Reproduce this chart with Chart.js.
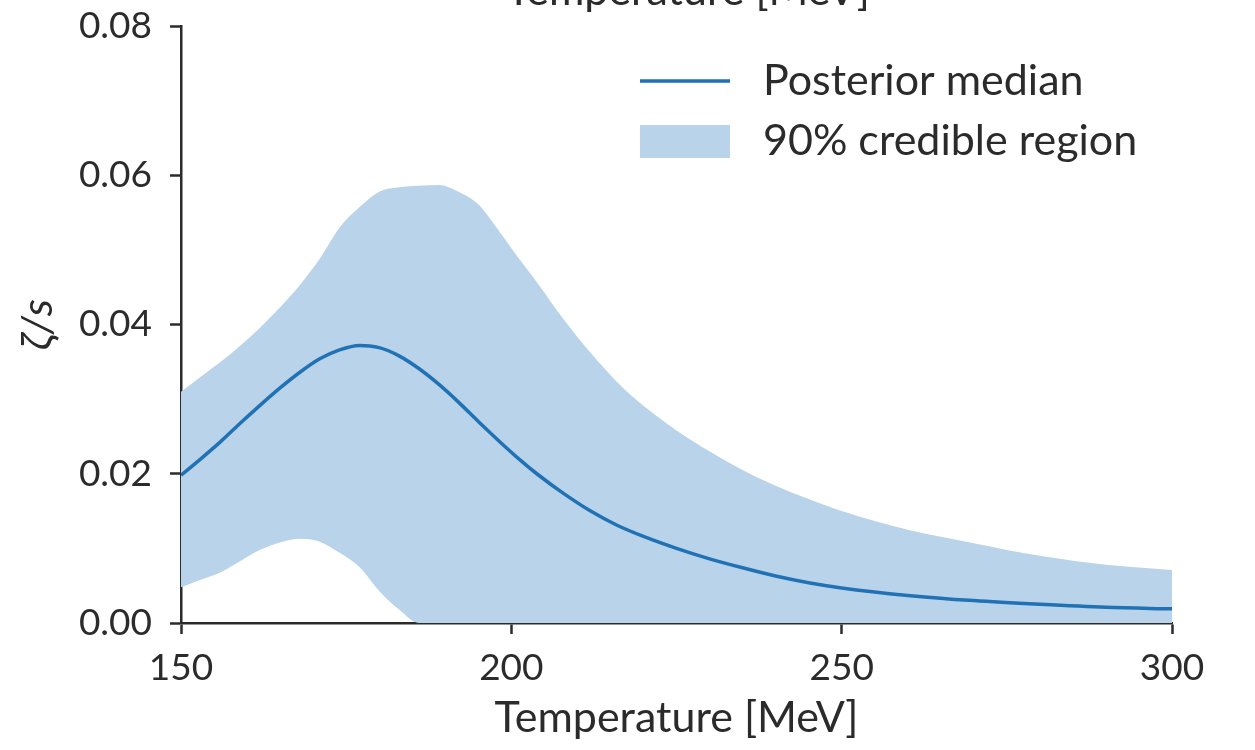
<!DOCTYPE html>
<html lang="en">
<head>
    <meta charset="UTF-8">
    <title>Bulk viscosity posterior</title>
    <script src="https://cdn.jsdelivr.net/npm/chart.js"></script>
    <style>
        body { margin: 0; background: #fff; }
        #wrap { width: 1255px; height: 750px; }
    </style>
</head>
<body>
    <div id="wrap"><canvas id="myChart" width="1255" height="750"></canvas></div>
    <script>
        // temperature grid [MeV]
        const temps = [150, 153, 156, 159, 162, 165, 168, 171, 174, 177, 180, 183, 186, 189, 192, 195, 198,
                       201, 204, 208, 212, 216, 220, 225, 230, 235, 240, 245, 250, 260, 270, 280, 290, 300];

        // zeta/s posterior median
        const median = [0.0198, 0.0220, 0.0243, 0.0268, 0.0292, 0.0315, 0.0336, 0.0354, 0.0366, 0.0372, 0.0369,
                        0.0358, 0.0341, 0.0320, 0.0296, 0.0270, 0.0245, 0.0221, 0.0199, 0.0173, 0.0150, 0.0131,
                        0.0116, 0.0100, 0.0086, 0.0074, 0.0063, 0.0054, 0.0047, 0.0037, 0.0030, 0.0025, 0.0021, 0.0019];

        // 90% credible band, upper and lower edge
        const upper = [0.0310, 0.0330, 0.0350, 0.0372, 0.0396, 0.0423, 0.0453, 0.0488, 0.0530, 0.0557, 0.0578,
                       0.0584, 0.0586, 0.0587, 0.0578, 0.0561, 0.0527, 0.0490, 0.0455, 0.0406, 0.0362, 0.0323,
                       0.0291, 0.0258, 0.0230, 0.0205, 0.0184, 0.0166, 0.0150, 0.0125, 0.0107, 0.0090, 0.0078, 0.0071];
        const lower = [0.0048, 0.0058, 0.0068, 0.0083, 0.0098, 0.0108, 0.0113, 0.0109, 0.0094, 0.0075, 0.0043,
                       0.0018, 0.0000, 0, 0, 0, 0, 0, 0, 0, 0, 0, 0, 0, 0, 0, 0, 0, 0, 0, 0, 0, 0, 0];

        const xTicks = [150, 200, 250, 300];
        const yTicks = [0.00, 0.02, 0.04, 0.06, 0.08];

        const INK = '#2b2b2b';
        const LINE_BLUE = '#2171b5';
        const BAND_BLUE = '#b9d4ea';
        const FONT = 'Lato';
        const TICK_SIZE = 37;
        const LABEL_SIZE = 43;

        function pts(ys) {
            return temps.map((t, i) => ({ x: t, y: ys[i] }));
        }

        // legend drawn by hand inside the plot area (line sample + filled box)
        const insideLegend = {
            id: 'insideLegend',
            afterDraw(chart) {
                const ctx = chart.ctx;
                const ds = chart.data.datasets;
                ctx.save();
                ctx.strokeStyle = ds[0].borderColor;
                ctx.lineWidth = ds[0].borderWidth;
                ctx.beginPath();
                ctx.moveTo(640, 81);
                ctx.lineTo(730, 81);
                ctx.stroke();
                ctx.fillStyle = ds[1].backgroundColor;
                ctx.fillRect(640, 125, 90, 33);
                ctx.fillStyle = INK;
                ctx.font = LABEL_SIZE + 'px ' + FONT;
                ctx.textAlign = 'left';
                ctx.textBaseline = 'middle';
                ctx.fillText(ds[0].label, 763, 81);
                ctx.fillText(ds[1].label, 763, 141);
                ctx.restore();
            }
        };

        // axis label of the panel above, only its lower edge shows
        const topCaption = {
            id: 'topCaption',
            afterDraw(chart) {
                const ctx = chart.ctx;
                ctx.save();
                ctx.fillStyle = INK;
                ctx.font = LABEL_SIZE + 'px ' + FONT;
                ctx.textAlign = 'center';
                ctx.textBaseline = 'alphabetic';
                ctx.fillText('Temperature [MeV]', 688, 5);
                ctx.restore();
            }
        };

        function drawChart() {
            const ctx = document.getElementById('myChart').getContext('2d');

            const config = {
                type: 'line',
                data: {
                    datasets: [
                        {
                            label: 'Posterior median',
                            data: pts(median),
                            borderColor: LINE_BLUE,
                            borderWidth: 3.5,
                            pointRadius: 0,
                            fill: false,
                            cubicInterpolationMode: 'monotone'
                        },
                        {
                            label: '90% credible region',
                            data: pts(upper),
                            borderWidth: 0,
                            borderColor: 'rgba(0,0,0,0)',
                            backgroundColor: BAND_BLUE,
                            pointRadius: 0,
                            fill: '+1',
                            cubicInterpolationMode: 'monotone'
                        },
                        {
                            label: 'lower',
                            data: pts(lower),
                            borderWidth: 0,
                            borderColor: 'rgba(0,0,0,0)',
                            pointRadius: 0,
                            fill: false,
                            cubicInterpolationMode: 'monotone'
                        }
                    ]
                },
                options: {
                    responsive: false,
                    animation: false,
                    events: [],
                    layout: { padding: { left: 0, top: 26, right: 83, bottom: 0 } },
                    plugins: {
                        legend: { display: false },
                        tooltip: { enabled: false }
                    },
                    scales: {
                        x: {
                            type: 'linear',
                            min: 150,
                            max: 300,
                            afterFit: s => {
                                s.height = 127;
                                s.paddingLeft = 0;
                                s.paddingRight = 0;
                            },
                            afterBuildTicks: s => { s.ticks = xTicks.map(v => ({ value: v })); },
                            ticks: {
                                color: INK,
                                font: { family: FONT, size: TICK_SIZE },
                                padding: 12,
                                maxRotation: 0,
                                callback: v => String(v)
                            },
                            grid: {
                                drawOnChartArea: false,
                                drawTicks: true,
                                tickLength: 11,
                                tickWidth: 2.5,
                                tickColor: INK
                            },
                            border: { display: true, color: INK, width: 2.5 },
                            title: {
                                display: true,
                                text: 'Temperature [MeV]',
                                color: INK,
                                font: { family: FONT, size: LABEL_SIZE },
                                padding: { top: 0, bottom: 6 }
                            }
                        },
                        y: {
                            type: 'linear',
                            min: 0,
                            max: 0.08,
                            afterFit: s => {
                                s.width = 181;
                                s.paddingTop = 0;
                                s.paddingBottom = 0;
                            },
                            afterBuildTicks: s => { s.ticks = yTicks.map(v => ({ value: v })); },
                            ticks: {
                                color: INK,
                                font: { family: FONT, size: TICK_SIZE },
                                padding: 18,
                                callback: v => v.toFixed(2)
                            },
                            grid: {
                                drawOnChartArea: false,
                                drawTicks: true,
                                tickLength: 11,
                                tickWidth: 2.5,
                                tickColor: INK
                            },
                            border: { display: true, color: INK, width: 2.5 },
                            title: {
                                display: true,
                                text: 'ζ/s',
                                color: INK,
                                font: { family: FONT, size: LABEL_SIZE, style: 'italic' },
                                padding: { top: 12, bottom: 0 }
                            }
                        }
                    }
                },
                plugins: [insideLegend, topCaption]
            };

            new Chart(ctx, config);
        }

        document.fonts.load('37px Lato').then(drawChart, drawChart);
    </script>
</body>
</html>
